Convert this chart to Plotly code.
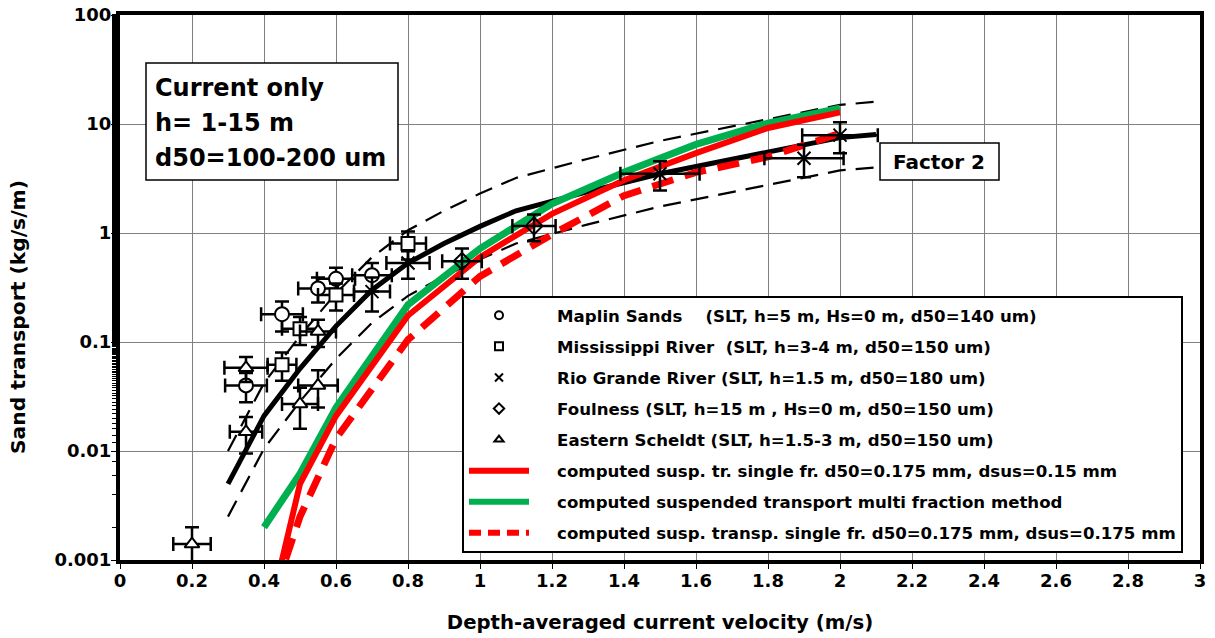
import plotly.graph_objects as go

# ---------------- data ----------------
# fitted curve of measurements and factor-2 band
fit_x = [0.3, 0.4, 0.5, 0.6, 0.7, 0.8, 0.9, 1.0, 1.1, 1.3, 1.5, 2.0, 2.1]
fit_y = [0.005, 0.021, 0.057, 0.14, 0.30, 0.53, 0.80, 1.15, 1.6, 2.4, 3.5, 7.5, 8.0]
band_hi_y = [0.010, 0.042, 0.114, 0.28, 0.60, 1.06, 1.6, 2.3, 3.2, 4.8, 7.0, 15.0, 16.0]
band_lo_y = [0.0025, 0.0105, 0.0285, 0.07, 0.15, 0.265, 0.40, 0.575, 0.80, 1.2, 1.75, 3.75, 4.0]

# computed curves
comp_x = [0.4, 0.5, 0.6, 0.7, 0.8, 1.0, 1.2, 1.4, 1.6, 1.8, 2.0]
multi_y = [0.002, 0.0062, 0.025, 0.075, 0.22, 0.72, 1.85, 3.6, 6.5, 10.2, 14.0]
single015_y = [0.0002, 0.005, 0.021, 0.062, 0.175, 0.60, 1.5, 3.05, 5.4, 9.2, 12.8]
single0175_y = [0.00026, 0.0025, 0.013, 0.036, 0.105, 0.40, 0.97, 2.2, 3.6, 5.0, 8.2]

# measurements
maplin_x = [0.35, 0.45, 0.55, 0.60, 0.70]
maplin_y = [0.040, 0.18, 0.31, 0.38, 0.41]
maplin_ex = [0.058, 0.058, 0.055, 0.053, 0.055]
maplin_ey = [0.012, 0.055, 0.08, 0.10, 0.12]

miss_x = [0.45, 0.50, 0.60, 0.80]
miss_y = [0.062, 0.132, 0.27, 0.80]
miss_ex = [0.04, 0.05, 0.05, 0.05]
miss_ey = [0.018, 0.038, 0.075, 0.23]

rio_x = [0.70, 0.80, 1.50, 1.90, 2.00]
rio_y = [0.29, 0.53, 3.5, 4.85, 7.9]
rio_ex = [0.05, 0.06, 0.11, 0.11, 0.105]
rio_ey = [0.10, 0.15, 1.05, 1.6, 2.5]

foul_x = [0.95, 1.15]
foul_y = [0.55, 1.16]
foul_ex = [0.055, 0.06]
foul_ey = [0.17, 0.32]

east_x = [0.20, 0.35, 0.35, 0.50, 0.55, 0.55]
east_y = [0.0014, 0.015, 0.058, 0.027, 0.040, 0.125]
east_ex = [0.052, 0.045, 0.06, 0.05, 0.055, 0.05]
east_ey = [0.0006, 0.0055, 0.015, 0.011, 0.015, 0.035]

x_ticks = [0, 0.2, 0.4, 0.6, 0.8, 1, 1.2, 1.4, 1.6, 1.8, 2, 2.2, 2.4, 2.6, 2.8, 3]
x_labels = ["0", "0.2", "0.4", "0.6", "0.8", "1", "1.2", "1.4", "1.6", "1.8", "2",
            "2.2", "2.4", "2.6", "2.8", "3"]
y_ticks = [0.001, 0.01, 0.1, 1, 10, 100]
y_labels = ["0.001", "0.01", "0.1", "1", "10", "100"]

legend_names = [
    "Maplin Sands    (SLT, h=5 m, Hs=0 m, d50=140 um)",
    "Mississippi River  (SLT, h=3-4 m, d50=150 um)",
    "Rio Grande River (SLT, h=1.5 m, d50=180 um)",
    "Foulness (SLT, h=15 m , Hs=0 m, d50=150 um)",
    "Eastern Scheldt (SLT, h=1.5-3 m, d50=150 um)",
    "computed susp. tr. single fr. d50=0.175 mm, dsus=0.15 mm",
    "computed suspended transport multi fraction method",
    "computed susp. transp. single fr. d50=0.175 mm, dsus=0.175 mm",
]
box_lines = ["Current only", "h= 1-15 m", "d50=100-200 um"]

FONT = "DejaVu Sans"
RED = "#ff0000"
GREEN = "#00b050"

# pixel -> paper helpers (plot area: x 120..1200, y 15..560)
L, R, T, B = 120, 1200, 15, 560
def px(xp):
    return (xp - L) / (R - L)
def py(yp):
    return (B - yp) / (B - T)

fig = go.Figure()

# band + fit
for yy in (band_hi_y, band_lo_y):
    fig.add_trace(go.Scatter(x=fit_x, y=yy, mode="lines", showlegend=False,
                             line=dict(color="black", width=2.2, dash="18px,10px"),
                             hoverinfo="skip"))
fig.add_trace(go.Scatter(x=fit_x, y=fit_y, mode="lines", showlegend=False,
                         line=dict(color="black", width=5), hoverinfo="skip"))

# computed curves
fig.add_trace(go.Scatter(x=comp_x, y=multi_y, mode="lines", showlegend=False,
                         line=dict(color=GREEN, width=7)))
fig.add_trace(go.Scatter(x=comp_x, y=single015_y, mode="lines", showlegend=False,
                         line=dict(color=RED, width=6)))
fig.add_trace(go.Scatter(x=comp_x, y=single0175_y, mode="lines", showlegend=False,
                         line=dict(color=RED, width=7, dash="22px,12px")))


def meas(xs, ys, exs, eys, symbol, size, fill):
    fig.add_trace(go.Scatter(
        x=xs, y=ys, mode="markers", showlegend=False,
        marker=dict(symbol=symbol, size=size, color=fill,
                    line=dict(color="black", width=2)),
        error_x=dict(type="data", array=exs, color="black", thickness=2.5, width=7),
        error_y=dict(type="data", array=eys, color="black", thickness=2.5, width=7),
    ))


meas(maplin_x, maplin_y, maplin_ex, maplin_ey, "circle", 14, "white")
meas(miss_x, miss_y, miss_ex, miss_ey, "square", 13, "white")
meas(rio_x, rio_y, rio_ex, rio_ey, "x-thin-open", 13, "black")
meas(foul_x, foul_y, foul_ex, foul_ey, "diamond-open", 13, "black")
meas(east_x, east_y, east_ex, east_ey, "triangle-up", 13, "white")

# legend-only entries
PAD = "\u00a0" * 4
leg_syms = ["circle-open", "square-open", "x-thin-open", "diamond-open", "triangle-up-open"]
for i, s in enumerate(leg_syms):
    fig.add_trace(go.Scatter(x=[None], y=[None], mode="markers", name=PAD + legend_names[i],
                             legendgroup=str(i),
                             marker=dict(symbol=s, size=8, color="black",
                                         line=dict(color="black", width=2))))
fig.add_trace(go.Scatter(x=[None], y=[None], mode="lines", name=PAD + legend_names[5],
                         legendgroup="5", line=dict(color=RED, width=6)))
fig.add_trace(go.Scatter(x=[None], y=[None], mode="lines", name=PAD + legend_names[6],
                         legendgroup="6", line=dict(color=GREEN, width=6)))
fig.add_trace(go.Scatter(x=[None], y=[None], mode="lines", name=PAD + legend_names[7],
                         legendgroup="7", line=dict(color=RED, width=6, dash="12px,7px")))

# text box "Current only"
fig.add_shape(type="rect", xref="paper", yref="paper",
              x0=px(146), x1=px(398), y0=py(180), y1=py(63),
              line=dict(color="black", width=1.5), fillcolor="white", layer="above")
for txt, yc in zip(box_lines, [88, 123, 158]):
    fig.add_annotation(xref="paper", yref="paper", x=px(153), y=py(yc),
                       xanchor="left", yanchor="middle", text=txt, showarrow=False,
                       font=dict(family=FONT, size=24, color="black", weight="bold"))

# "Factor 2" box
fig.add_shape(type="rect", xref="paper", yref="paper",
              x0=px(880), x1=px(999), y0=py(180), y1=py(143),
              line=dict(color="black", width=1.5), fillcolor="white", layer="above")
fig.add_annotation(xref="paper", yref="paper", x=px(939), y=py(162),
                   xanchor="center", yanchor="middle", text="Factor 2", showarrow=False,
                   font=dict(family=FONT, size=20, color="black", weight="bold"))

# y-axis title
fig.add_annotation(xref="paper", yref="paper", x=px(18), y=py(317),
                   xanchor="center", yanchor="middle", text="Sand transport (kg/s/m)",
                   textangle=-90, showarrow=False,
                   font=dict(family=FONT, size=20.3, color="black", weight="bold"))

fig.update_layout(
    width=1215, height=638,
    margin=dict(l=L, r=1215 - R, t=T, b=638 - B),
    paper_bgcolor="white", plot_bgcolor="white",
    font=dict(family=FONT, color="black"),
    legend=dict(
        x=px(462), y=py(296), xanchor="left", yanchor="top",
        bgcolor="white", bordercolor="black", borderwidth=2,
        font=dict(family=FONT, size=16.6, color="black", weight="bold"),
        itemwidth=60, tracegroupgap=6.5, traceorder="grouped",
    ),
    xaxis=dict(
        range=[0, 3], tickvals=x_ticks, ticktext=x_labels, automargin=False,
        showgrid=True, gridcolor="#808080", gridwidth=1,
        showline=True, linecolor="black", linewidth=4, mirror=True,
        ticks="outside", ticklen=5, tickcolor="black", ticklabelstandoff=-4,
        tickfont=dict(family=FONT, size=18, color="black", weight="bold"),
        title=dict(text="Depth-averaged current velocity (m/s)", standoff=27,
                   font=dict(family=FONT, size=19.7, color="black", weight="bold")),
        zeroline=False,
    ),
    yaxis=dict(
        type="log", range=[-3, 2], tickvals=y_ticks, ticktext=y_labels, automargin=False,
        showgrid=True, gridcolor="#808080", gridwidth=1,
        showline=True, linecolor="black", linewidth=4, mirror=True,
        ticks="outside", ticklen=5, tickcolor="black", ticklabelstandoff=-4,
        minor=dict(ticks="outside", ticklen=4, tickcolor="black", showgrid=False),
        tickfont=dict(family=FONT, size=18, color="black", weight="bold"),
        zeroline=False,
    ),
)

fig.write_html("out.html")
